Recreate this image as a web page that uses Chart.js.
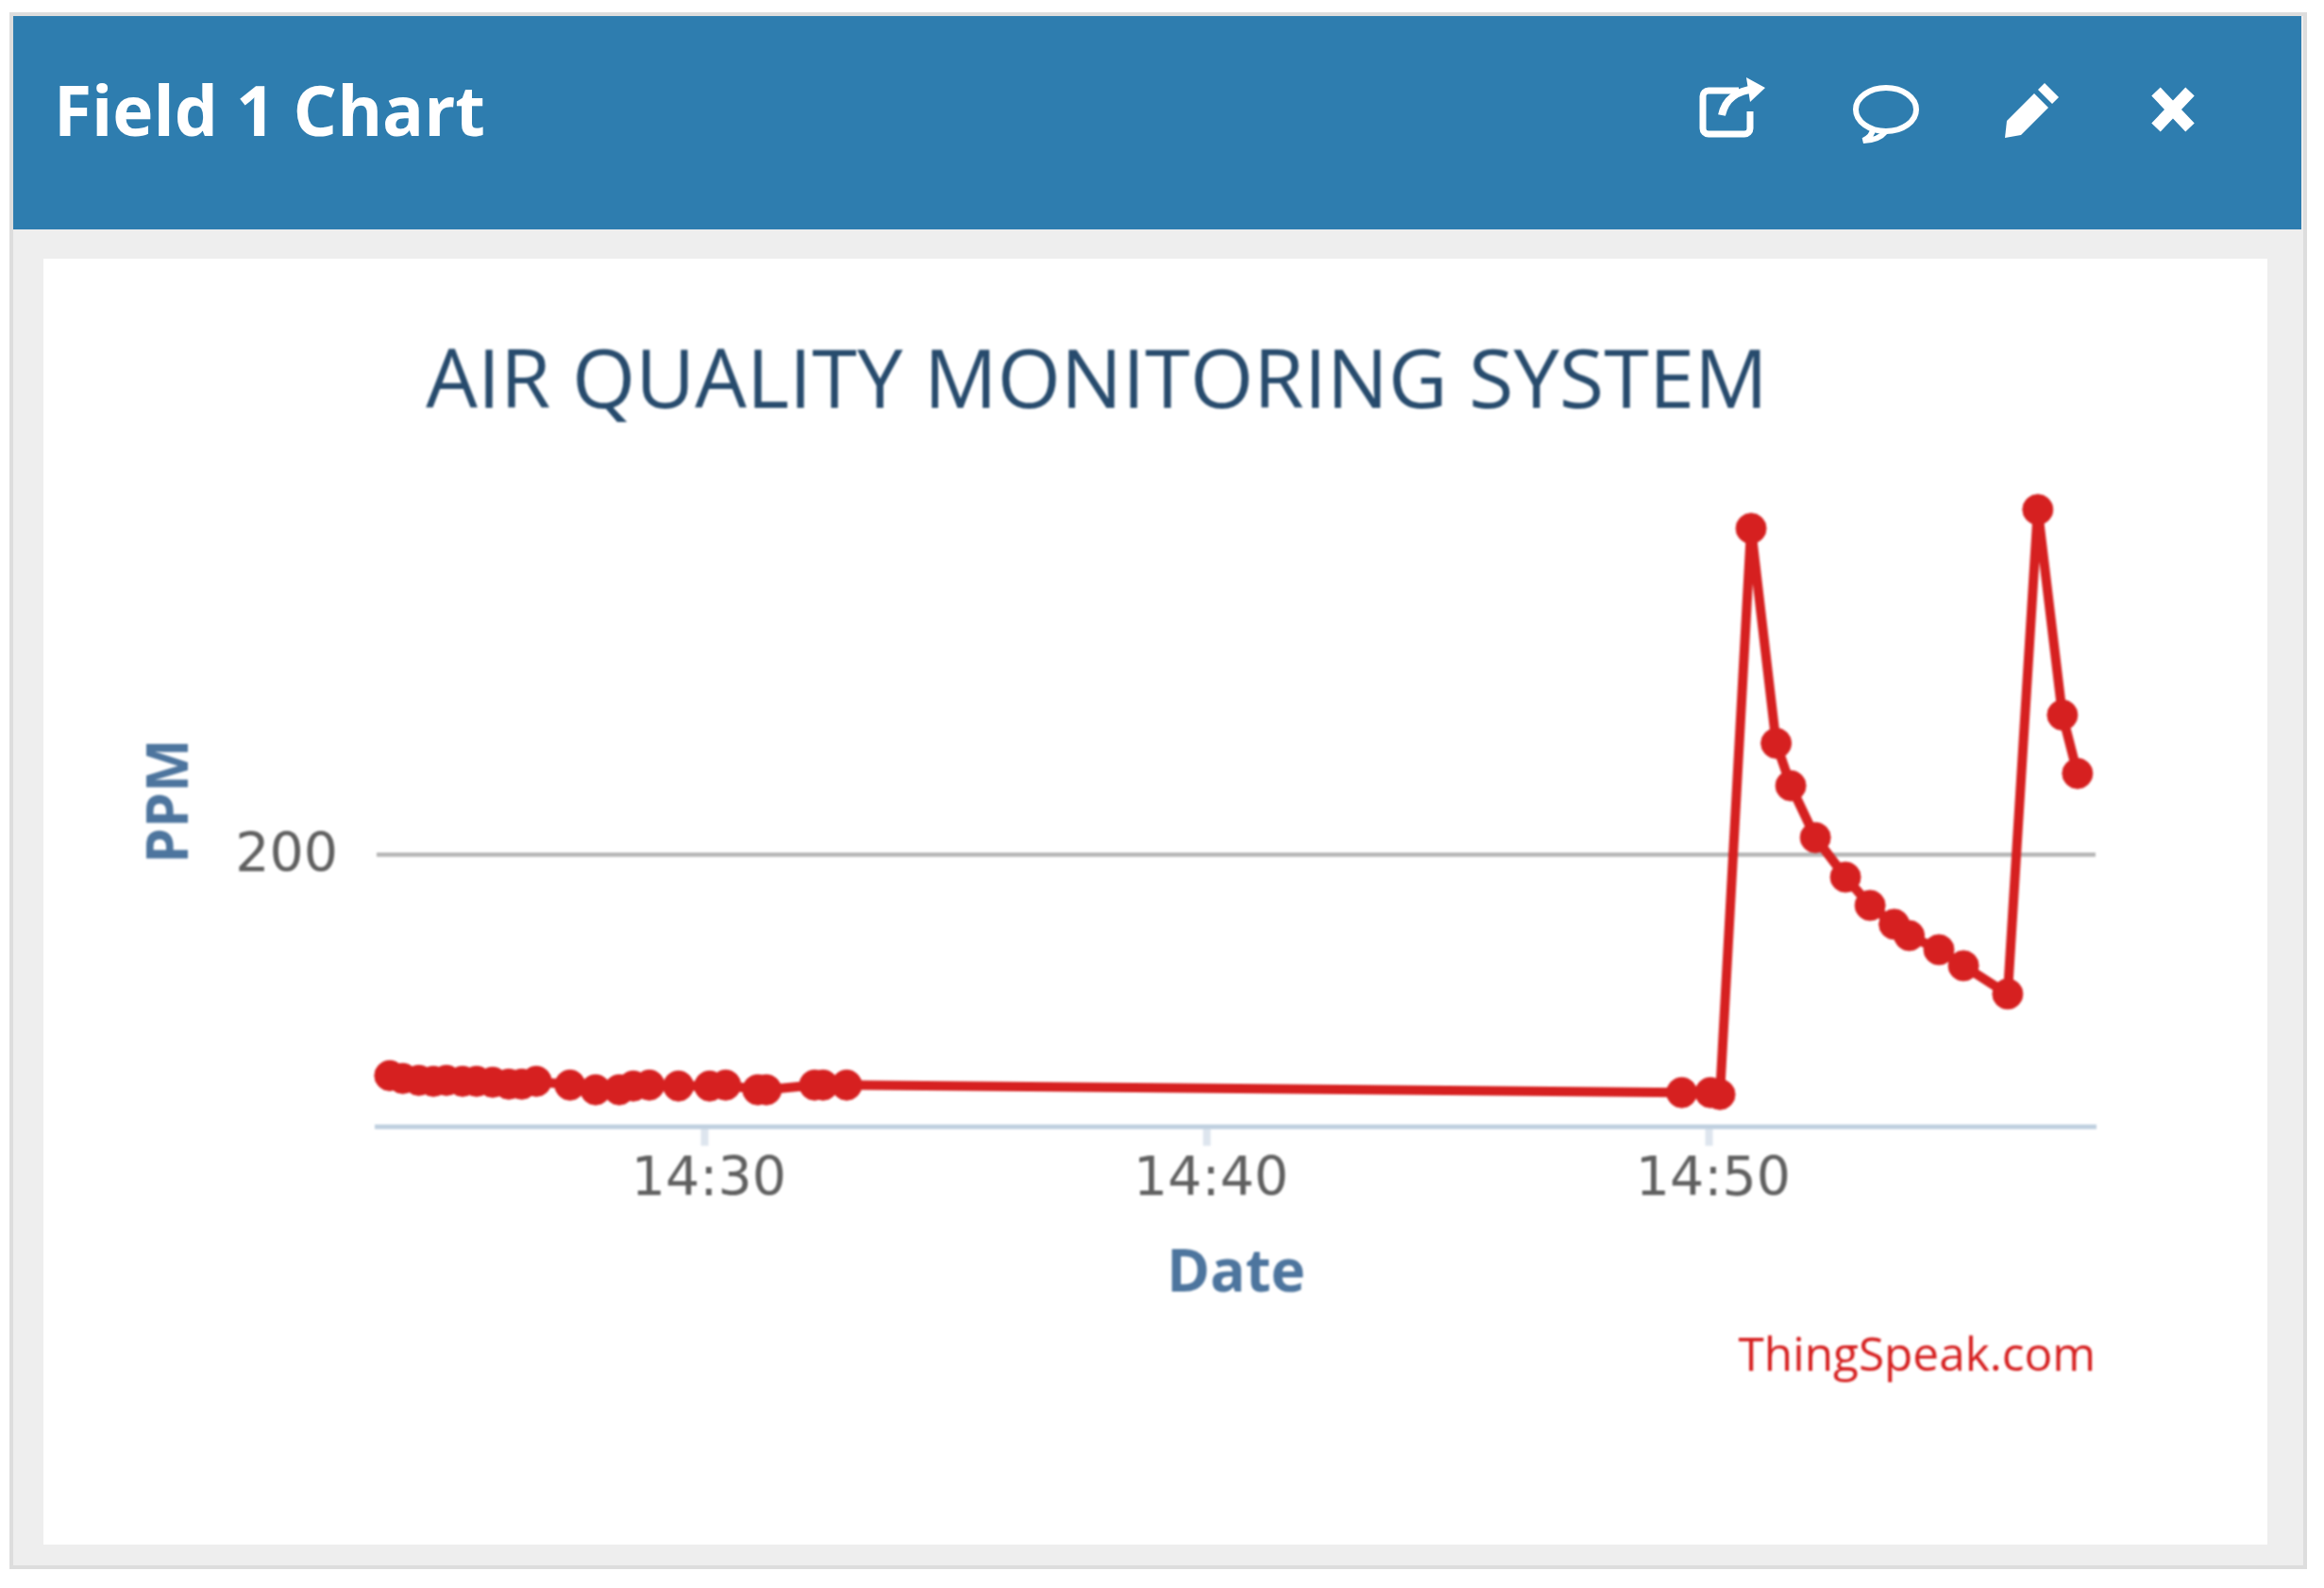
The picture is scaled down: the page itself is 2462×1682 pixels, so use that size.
<!DOCTYPE html>
<html><head><meta charset="utf-8">
<script src="https://cdn.jsdelivr.net/npm/chart.js@4"></script>
<style>
html,body{margin:0;padding:0;background:#fff;width:2462px;height:1682px;overflow:hidden}
#outer{position:absolute;left:10px;top:13px;width:2426px;height:1641px;background:#eeeeee;border:4px solid #dddddd}
#head{position:absolute;left:14px;top:17px;width:2424px;height:226px;background:#2e7daf}
#headTitle{position:absolute;left:57px;top:68px;color:#fff;font:bold 73px "Open Sans",sans-serif;line-height:96px;white-space:nowrap;filter:blur(.7px)}
#panel{position:absolute;left:46px;top:274px;width:2356px;height:1362px;background:#fff}
canvas{position:absolute;left:104px;top:274px;filter:blur(.8px)}
svg{position:absolute;filter:blur(.7px)}
</style></head>
<body>
<div id="outer"></div>
<div id="head"></div>
<div id="headTitle">Field 1 Chart</div>
<svg style="left:1800px;top:80px" width="74" height="66" viewBox="0 0 74 66" fill="none" stroke="#fff" stroke-width="7">
  <path d="M42 16H10a6 6 0 0 0-6 6v34a6 6 0 0 0 6 6h38a6 6 0 0 0 6-6V38"/>
  <path d="M24 42C28 24 40 16 60 14" stroke-width="8"/>
  <path d="M50 2L70 13L54 28Z" fill="#fff" stroke="none"/>
</svg>
<svg style="left:1962px;top:88px" width="72" height="64" viewBox="0 0 72 64" fill="none" stroke="#fff" stroke-width="6">
  <ellipse cx="36" cy="28" rx="32" ry="23"/>
  <path d="M22 48C22 54 18 58 12 61C24 61 32 56 36 51"/>
</svg>
<svg style="left:2122px;top:85px" width="62" height="62" viewBox="0 0 62 62" fill="#fff">
  <path d="M44 3L59 18L52 25L37 10Z"/><path d="M33 14L48 29L19 58L2 61L4 43Z"/>
</svg>
<svg style="left:2278px;top:91px" width="48" height="50" viewBox="0 0 48 50" fill="none" stroke="#fff" stroke-width="13">
  <path d="M6 6L42 44M42 6L6 44"/>
</svg>
<div id="panel"></div>
<canvas id="c" width="2133" height="1365" style="width:2133px;height:1365px"></canvas>
<script>
const chartTitle = "AIR QUALITY MONITORING SYSTEM";
const xAxisTitle = "Date";
const yAxisTitle = "PPM";
const creditText = "ThingSpeak.com";
const tickMinutes = [870, 880, 890];
const tickLabels = ["14:30", "14:40", "14:50"];
const yTickValues = [200];
// minutes since midnight
const timeMinutes = [863.72,863.98,864.30,864.59,864.85,865.17,865.45,865.77,866.09,866.35,866.64,867.31,867.82,868.29,868.57,868.89,869.47,870.09,870.41,871.05,871.22,872.18,872.35,872.82,889.45,890.02,890.21,890.83,891.33,891.62,892.11,892.71,893.20,893.68,893.98,894.57,895.06,895.94,896.54,897.03,897.33];
const ppmValues = [82.7,81.2,80.2,79.7,80.2,79.7,79.7,79.2,78.2,78.2,79.7,77.7,75.2,75.2,77.2,77.7,77.2,77.2,77.7,75.2,75.2,77.7,77.7,77.7,73.7,73.7,72.7,373,259,236.5,209,188,173,163,157,149.5,141,126,383,274,243];
const points = timeMinutes.map((t,i)=>({x:t,y:ppmValues[i]}));
const RED = "#d62020";
const FONT = '"Open Sans", sans-serif';
const TICKFONT = '"DejaVu Sans", sans-serif';
new Chart(document.getElementById("c"), {
  type: "line",
  data: { datasets: [{ data: points, borderColor: RED, backgroundColor: RED, borderWidth: 10, tension: 0,
    pointRadius: 16, pointBackgroundColor: RED, pointBorderColor: RED, pointBorderWidth: 1, clip: false }] },
  options: {
    responsive: false, animation: false, devicePixelRatio: 1,
    layout: { padding: { left: 0, top: 0, bottom: 0, right: 17 } },
    plugins: {
      legend: { display: false }, tooltip: { enabled: false },
      title: { display: true, text: chartTitle, color: "#274b6d", align: "center",
        font: { family: FONT, size: 86.5, weight: "normal", lineHeight: 1.2 }, padding: { top: 81, bottom: 45 } },
      subtitle: { display: true, text: creditText, position: "bottom", align: "end", color: RED,
        font: { family: FONT, size: 49.5, weight: "normal", lineHeight: 1.2 }, padding: { top: 0, bottom: 171 } }
    },
    scales: {
      x: { type: "linear", min: 863.46, max: 897.69,
        afterBuildTicks: s => { s.ticks = tickMinutes.map(v => ({ value: v })); },
        afterFit: s => { s.height = 215; s.paddingLeft = 0; s.paddingRight = 0; },
        border: { display: true, color: "#c0d0e0", width: 5 },
        grid: { drawOnChartArea: false, drawTicks: true, tickLength: 20, tickColor: "#dde5ee", tickWidth: 8 },
        ticks: { maxRotation: 0, autoSkip: false, padding: 9, labelOffset: 4, color: "#606060",
          font: { family: TICKFONT, size: 57, lineHeight: 1 }, callback: (v) => { const i = tickMinutes.indexOf(v); return i >= 0 ? tickLabels[i] : ""; } },
        title: { display: true, text: xAxisTitle, color: "#4d759e", font: { family: FONT, size: 62, weight: "bold", lineHeight: 1.2 }, padding: { top: 0, bottom: 21 } }
      },
      y: { type: "linear", min: 55.5, max: 401,
        afterBuildTicks: s => { s.ticks = yTickValues.map(v => ({ value: v })); },
        afterFit: s => { s.width = 295; },
        border: { display: false },
        grid: { color: "#b6b6b6", lineWidth: 4.5, drawTicks: false },
        ticks: { padding: 41, labelOffset: 3, color: "#606060", font: { family: TICKFONT, size: 57 } },
        title: { display: true, text: yAxisTitle, color: "#4d759e", font: { family: FONT, size: 60, weight: "bold", lineHeight: 1.2 }, padding: { top: 42, bottom: 0 } }
      }
    }
  }
});
</script>
</body></html>
